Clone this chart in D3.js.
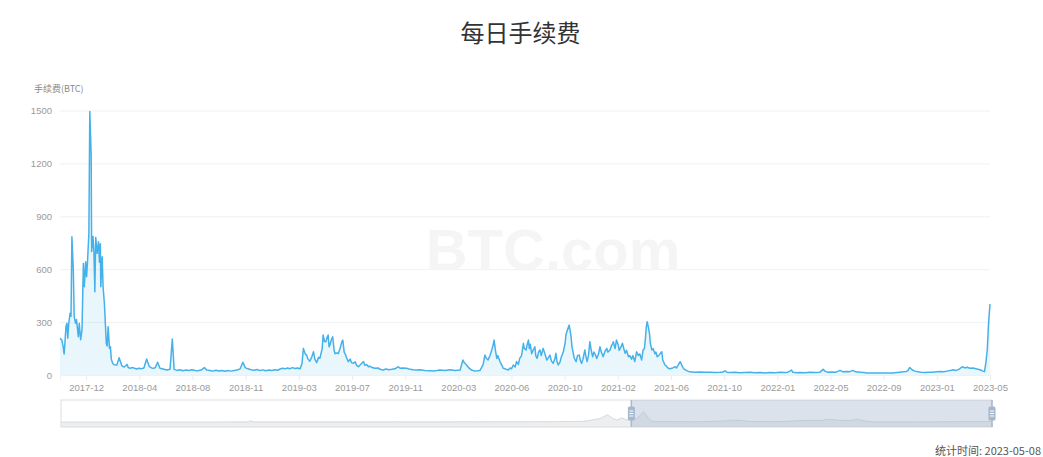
<!DOCTYPE html>
<html><head><meta charset="utf-8">
<script src="https://cdn.jsdelivr.net/npm/d3@7"></script>
<style>body{margin:0;background:#fff;} svg{display:block;}</style>
</head><body>
<svg id="c" width="1043" height="457"></svg>
<script>
const title = "每日手续费";
const yAxisTitle = "手续费(BTC)";
const footnote = "统计时间: 2023-05-08";
const watermark = "BTC.com";

// main series: day offsets from startDate and daily fee (BTC)
const startDate = "2017-10-17";
const endDate = "2023-05-08";
const dayOffsets = [0,4,7,9,11,13,15,17,19,22,24,26,29,31,34,36,40,42,45,48,51,53,56,58,60,63,65,68,69,72,74,76,78,81,84,86,88,89,92,94,97,99,101,103,105,108,110,112,115,118,124,129,135,140,146,149,153,159,167,172,178,183,189,195,200,204,208,213,218,225,233,240,245,249,255,262,268,275,281,288,295,301,308,315,320,327,334,340,347,353,360,366,373,380,386,393,399,404,410,417,423,430,436,443,449,456,462,469,475,480,485,491,496,502,507,513,518,524,528,531,535,538,541,545,549,553,556,560,564,567,572,574,577,580,583,585,587,589,592,595,598,600,604,607,611,615,617,620,622,625,629,633,636,640,644,647,651,654,658,662,665,669,673,676,681,687,694,698,705,711,718,724,731,738,742,748,756,764,770,778,785,796,807,814,822,829,840,851,862,873,879,882,887,892,898,905,916,923,927,930,934,938,942,945,947,950,953,955,960,963,967,971,978,982,985,989,993,996,1000,1003,1007,1011,1013,1017,1019,1022,1024,1026,1029,1032,1036,1038,1041,1044,1047,1050,1054,1058,1062,1066,1069,1072,1076,1080,1082,1084,1087,1091,1094,1098,1102,1104,1107,1109,1111,1113,1115,1117,1120,1122,1126,1129,1133,1135,1138,1141,1145,1147,1150,1153,1156,1159,1162,1165,1168,1171,1175,1178,1181,1185,1189,1193,1195,1200,1203,1206,1207,1211,1214,1218,1220,1225,1227,1230,1233,1236,1240,1243,1247,1250,1254,1258,1262,1265,1269,1272,1275,1277,1279,1281,1283,1286,1288,1291,1294,1298,1300,1303,1306,1309,1313,1315,1320,1323,1327,1331,1334,1337,1342,1345,1349,1353,1356,1358,1361,1367,1374,1385,1396,1407,1418,1429,1440,1446,1451,1455,1462,1473,1483,1494,1505,1516,1527,1538,1549,1560,1571,1582,1588,1596,1599,1608,1614,1625,1636,1647,1658,1665,1669,1675,1684,1693,1702,1708,1717,1723,1730,1736,1745,1754,1760,1767,1778,1789,1800,1811,1817,1826,1832,1839,1846,1850,1854,1859,1865,1872,1878,1887,1896,1904,1913,1922,1928,1935,1942,1948,1955,1961,1969,1974,1979,1985,1992,1998,2007,2014,2017,2020,2023,2026,2029];
const fees = [208,198,160,119,193,274,293,208,293,350,333,784,595,330,293,314,217,293,200,255,633,500,642,557,642,803,1495,1250,700,785,700,472,780,690,755,640,745,500,670,500,400,290,180,165,274,150,160,90,65,58,56,98,52,45,60,42,38,42,34,38,36,40,91,47,40,38,42,72,38,34,28,32,204,32,26,30,24,28,25,30,26,24,28,42,28,26,22,27,23,26,21,25,22,26,28,35,72,42,35,30,27,31,25,29,24,28,25,30,27,34,38,35,40,36,42,37,40,36,66,151,120,113,90,78,100,132,90,70,100,95,150,227,190,189,215,227,160,170,200,217,140,121,125,121,150,189,198,130,121,100,76,90,70,66,75,55,47,55,65,76,55,60,47,50,42,38,40,32,28,34,30,32,35,47,38,40,38,32,30,28,30,25,24,23,25,28,25,30,26,28,85,70,57,40,28,22,25,57,113,95,85,110,142,170,198,140,94,110,76,60,38,35,28,40,35,57,45,76,60,94,110,180,150,142,170,198,150,175,121,140,160,110,94,130,142,110,151,120,85,100,113,80,66,95,123,80,57,75,104,130,180,230,255,270,283,250,217,160,121,95,76,110,113,85,66,90,142,110,76,110,189,140,104,130,115,94,120,160,130,104,135,151,130,142,165,180,189,150,198,170,140,165,180,150,123,140,104,110,90,110,76,132,110,120,85,140,150,200,270,302,280,236,180,142,150,120,130,104,110,120,132,85,57,50,38,35,38,40,47,40,57,76,60,47,35,25,18,16,17,15,16,14,15,16,24,16,14,15,13,14,15,13,14,12,14,13,15,14,16,28,15,13,14,13,15,14,16,32,22,15,17,16,26,18,20,19,26,18,16,14,11,12,11,12,11,12,11,14,16,18,20,25,43,30,22,18,16,14,16,15,18,20,18,22,25,30,26,32,47,40,44,38,40,36,30,22,19,70,142,300,402];

const yTicks = [0, 300, 600, 900, 1200, 1500];
const xTickDates = ["2017-12-13","2018-04-08","2018-08-02","2018-11-26","2019-03-22","2019-07-16","2019-11-09","2020-03-04","2020-06-28","2020-10-22","2021-02-15","2021-06-11","2021-10-05","2022-01-29","2022-05-25","2022-09-18","2023-01-12","2023-05-08"];

// overview (data zoom slider) shadow for the full history
const historyStart = "2009-01-03";
const overviewDates = ["2009-01-03","2011-06-01","2011-11-25","2011-12-07","2011-12-19","2013-06-01","2015-06-01","2016-06-01","2016-12-01","2017-01-22","2017-02-26","2017-04-23","2017-06-04","2017-06-30","2017-07-26","2017-08-24","2017-09-21","2017-10-19","2017-11-14","2017-12-07","2017-12-23","2018-01-07","2018-01-18","2018-02-08","2018-02-27","2018-11-08","2019-04-03","2019-05-13","2019-06-21","2019-08-16","2020-02-01","2020-04-25","2020-07-08","2020-09-13","2020-10-28","2021-01-04","2021-03-01","2021-04-15","2021-05-30","2021-07-20","2022-06-01","2023-05-08"];
const overviewFees = [0,5,8,120,8,10,15,25,40,60,150,300,650,350,170,375,170,400,300,600,907,700,400,80,30,25,100,170,150,50,30,100,150,130,240,150,140,240,60,15,20,40];

const parse = d3.utcParse("%Y-%m-%d");
const t0 = parse(startDate);
const n = Math.min(dayOffsets.length, fees.length);
const data = dayOffsets.slice(0, n).map((d, i) => ({date: d3.utcDay.offset(t0, d), v: fees[i]}));

const svg = d3.select("#c");

// scales
const x = d3.scaleUtc().domain([t0, parse(endDate)]).range([60, 990]);
const y = d3.scaleLinear().domain([0, 1500]).range([375, 110.5]);

// title
svg.append("text").attr("x", 520.5).attr("y", 31).attr("text-anchor", "middle")
  .attr("dominant-baseline", "central")
  .style("font-family", "'Noto Sans CJK SC', sans-serif").style("font-size", "24px")
  .attr("fill", "#333").text(title);

// y axis title
svg.append("text").attr("x", 34).attr("y", 88).attr("dominant-baseline", "central")
  .style("font-family", "'Noto Sans CJK SC', sans-serif").style("font-size", "9px")
  .attr("fill", "#8a8a8a").text(yAxisTitle);

// gridlines
const grid = svg.append("g").attr("transform", "translate(60,0)")
  .call(d3.axisLeft(y).tickValues(yTicks).tickSize(-930).tickFormat(""));
grid.select(".domain").remove();
grid.selectAll("line").attr("stroke", "#eff1f4");

// watermark
svg.append("text").attr("x", 553).attr("y", 270).attr("text-anchor", "middle")
  .style("font-family", "'Liberation Sans', Arial, sans-serif").style("font-weight", "bold")
  .style("font-size", "58px").attr("fill", "#f5f5f5").text(watermark);

// y axis labels
const ya = svg.append("g").attr("transform", "translate(60,0)")
  .call(d3.axisLeft(y).tickValues(yTicks).tickSize(0).tickPadding(8).tickFormat(d3.format("d")));
ya.select(".domain").remove();
ya.selectAll("text").attr("fill", "#9a9a9a")
  .style("font-family", "'Liberation Sans', Arial, sans-serif").style("font-size", "9.5px");

// area + line
const area = d3.area().x(d => x(d.date)).y0(y(0)).y1(d => y(d.v));
const line = d3.line().x(d => x(d.date)).y(d => y(d.v));
svg.append("path").datum(data).attr("d", area).attr("fill", "rgba(70,178,234,0.12)");
svg.append("path").datum(data).attr("d", line).attr("fill", "none")
  .attr("stroke", "#45b1eb").attr("stroke-width", 1.5).attr("stroke-linejoin", "round");

// x axis
const xa = svg.append("g").attr("transform", "translate(0,375)")
  .call(d3.axisBottom(x).tickValues(xTickDates.map(parse)).tickSize(5).tickPadding(4)
    .tickFormat(d3.utcFormat("%Y-%m")));
xa.select(".domain").attr("stroke", "#eef0f3");
xa.selectAll("line").attr("stroke", "#e8ecf1");
xa.selectAll("text").attr("fill", "#9a9a9a")
  .style("font-family", "'Liberation Sans', Arial, sans-serif").style("font-size", "9.5px");

// data zoom slider
const sx = d3.scaleUtc().domain([parse(historyStart), parse(endDate)]).range([61, 992]);
const sy = d3.scaleLinear().domain([-450, 1950]).range([427, 400]);
const ov = overviewDates.map((d, i) => ({date: parse(d), v: overviewFees[i]}));
const sArea = d3.area().x(d => sx(d.date)).y0(427).y1(d => sy(d.v));
const sLine = d3.line().x(d => sx(d.date)).y(d => sy(d.v));
svg.append("path").datum(ov).attr("d", sArea).attr("fill", "rgba(47,69,84,0.09)");
svg.append("path").datum(ov).attr("d", sLine).attr("fill", "none")
  .attr("stroke", "rgba(47,69,84,0.2)").attr("stroke-width", 0.8);
svg.append("rect").attr("x", 61).attr("y", 400).attr("width", 931).attr("height", 27)
  .attr("fill", "none").attr("stroke", "#dddddd");
const x0s = sx(t0), x1s = sx(parse(endDate));
svg.append("rect").attr("x", x0s).attr("y", 400).attr("width", x1s - x0s).attr("height", 27)
  .attr("fill", "rgba(167,183,204,0.4)");
[x0s, x1s].forEach(hx => {
  const g = svg.append("g").attr("transform", `translate(${hx},0)`);
  g.append("line").attr("x1", 0).attr("x2", 0).attr("y1", 400).attr("y2", 427)
    .attr("stroke", "#a7b7cc").attr("stroke-width", 1.5);
  g.append("rect").attr("x", -3.5).attr("y", 406.5).attr("width", 7).attr("height", 14)
    .attr("rx", 1.5).attr("fill", "#a7b7cc");
  [411, 413.5, 416].forEach(ly => g.append("line").attr("x1", -2).attr("x2", 2)
    .attr("y1", ly).attr("y2", ly).attr("stroke", "#fff").attr("stroke-width", 1));
});

// footnote
svg.append("text").attr("x", 1041).attr("y", 450).attr("text-anchor", "end")
  .attr("dominant-baseline", "central")
  .style("font-family", "'Noto Sans CJK SC', sans-serif").style("font-size", "11px")
  .attr("fill", "#555").text(footnote);
</script>
</body></html>
